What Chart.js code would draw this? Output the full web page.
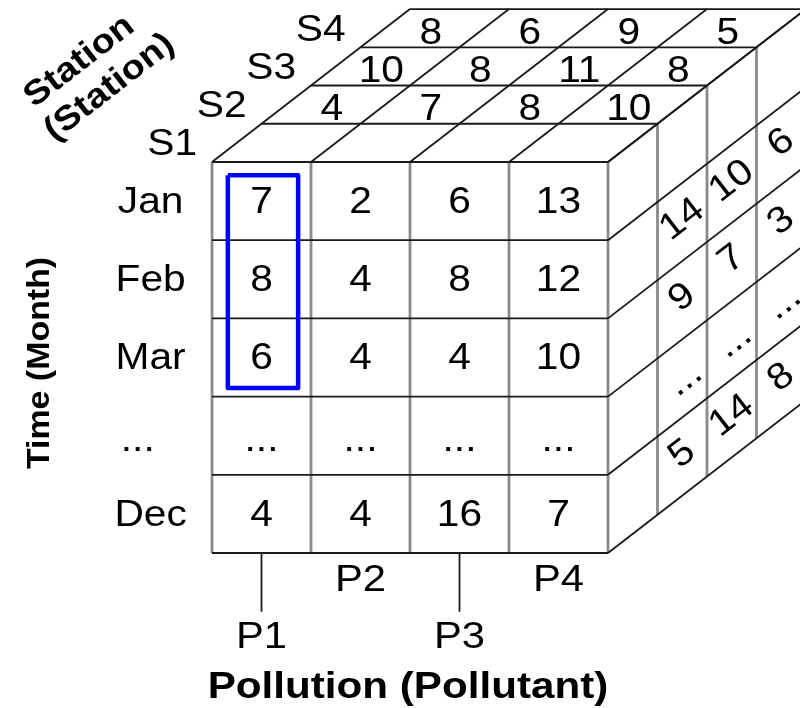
<!DOCTYPE html>
<html>
<head>
<meta charset="utf-8">
<script src="https://cdn.jsdelivr.net/npm/chart.js@4.4.1/dist/chart.umd.min.js"></script>
<style>
  html, body { margin: 0; padding: 0; background: #fff; }
  #cube { display: block; }
</style>
</head>
<body>
<canvas id="cube" width="800" height="708"></canvas>
<script>
// axes of the cube
const months = ['Jan', 'Feb', 'Mar', '...', 'Dec'];
const pollutants = ['P1', 'P2', 'P3', 'P4'];
const stations = ['S1', 'S2', 'S3', 'S4'];

// front face (S1), one array per month row
const s1Jan = [7, 2, 6, 13];
const s1Feb = [8, 4, 8, 12];
const s1Mar = [6, 4, 4, 10];
const s1Etc = ['...', '...', '...', '...'];
const s1Dec = [4, 4, 16, 7];

// top face, stations behind S1
const topS2 = [4, 7, 8, 10];
const topS3 = [10, 8, 11, 8];
const topS4 = [8, 6, 9, 5];

// right face, shown from the 2nd row down
const sideS2 = [14, 9, '...', 5];
const sideS3 = [10, 7, '...', 14];
const sideS4 = [6, 3, '...', 8];

// highlighted cells: P1, Jan..Mar
const highlightCol = 0;
const highlightRows = [0, 2];

const frontRows = [s1Jan, s1Feb, s1Mar, s1Etc, s1Dec];
const topRows = [topS2, topS3, topS4];
const sideCols = [sideS2, sideS3, sideS4];

// cube geometry in cell units (1 col / 1 row), depth goes up-right
const COL_PX = 99, ROW_PX = 78.2, ORIGIN_X = 212, ORIGIN_Y = 162;
const DEPTH_X = 0.5, DEPTH_Y = -0.489;
const nC = pollutants.length, nR = months.length, nD = stations.length;

function proj(c, r, d) {
  return { x: c + d * DEPTH_X, y: r + d * DEPTH_Y };
}

const GREY = '#8a8a8a';
const DARK = '#1a1a1a';
const datasets = [];
function seg(a, b, color, width) {
  datasets.push({
    data: [a, b],
    borderColor: color,
    borderWidth: width,
    pointRadius: 0,
    showLine: true,
    order: color === GREY ? 2 : 1
  });
}

// front face
for (let r = 0; r <= nR; r++) seg(proj(0, r, 0), proj(nC, r, 0), DARK, 1.8);
for (let c = 0; c <= nC; c++) seg(proj(c, 0, 0), proj(c, nR, 0), GREY, 2.8);
// top face
for (let d = 1; d <= nD; d++) seg(proj(0, 0, d), proj(nC, 0, d), DARK, 1.8);
for (let c = 0; c <= nC; c++) seg(proj(c, 0, 0), proj(c, 0, nD), DARK, 1.8);
// right face
for (let r = 0; r <= nR; r++) seg(proj(nC, r, 0), proj(nC, r, nD), DARK, 1.8);
for (let d = 1; d <= nD; d++) seg(proj(nC, 0, d), proj(nC, nR, d), GREY, 2.8);
// leader lines for P1 and P3
[0, 2].forEach(c => seg(proj(c + 0.5, nR, 0), proj(c + 0.5, nR + 0.75, 0), DARK, 1.8));

// blue highlight box
const hx0 = highlightCol + 0.16, hx1 = highlightCol + 0.87;
const hy0 = highlightRows[0] + 0.17, hy1 = highlightRows[1] + 0.89;
datasets.push({
  data: [{ x: hx0, y: hy0 }, { x: hx1, y: hy0 }, { x: hx1, y: hy1 }, { x: hx0, y: hy1 }, { x: hx0, y: hy0 }],
  borderColor: '#0000ff',
  borderWidth: 4.5,
  borderJoinStyle: 'round',
  pointRadius: 0,
  showLine: true,
  order: 0
});

const FONT = '"Liberation Sans", Arial, sans-serif';

function put(ctx, txt, x, y, o) {
  ctx.save();
  ctx.translate(x, y);
  if (o.angle) ctx.rotate(o.angle);
  ctx.scale(o.stretch || 1.1, 1);
  ctx.font = (o.bold ? 'bold ' : '') + (o.size || 37) + 'px ' + FONT;
  ctx.fillStyle = '#000';
  ctx.textAlign = o.align || 'center';
  ctx.textBaseline = 'middle';
  // ellipses sit a little lower in the reference
  ctx.fillText(String(txt), 0, txt === '...' ? 4 : 0);
  ctx.restore();
}

const cubeText = {
  id: 'cubeText',
  afterDatasetsDraw(chart) {
    const { ctx } = chart;
    const sx = chart.scales.x, sy = chart.scales.y;
    const px = p => sx.getPixelForValue(p.x);
    const py = p => sy.getPixelForValue(p.y);
    const at = (p, txt, o) => put(ctx, txt, px(p), py(p), o || {});

    // depth direction angle on screen
    const a0 = proj(nC, 0, 0), a1 = proj(nC, 0, 1);
    const depthAngle = Math.atan2(py(a1) - py(a0), px(a1) - px(a0));

    // front cells
    frontRows.forEach((row, r) => row.forEach((v, c) => at(proj(c + 0.5, r + 0.52, 0), v)));
    // top cells
    topRows.forEach((row, i) => row.forEach((v, c) => at(proj(c + 0.46, 0.07, i + 1.5), v)));
    // side cells
    sideCols.forEach((col, i) => col.forEach((v, k) =>
      at(proj(nC, k + 1.47, i + 1.5), v, { angle: depthAngle })));

    // month labels
    months.forEach((m, r) => at(proj(m === '...' ? -0.75 : -0.62, r + 0.52, 0), m));
    // pollutant labels, staggered
    pollutants.forEach((p, c) => at(proj(c + 0.5, nR + (c % 2 ? 0.35 : 1.09), 0), p, { stretch: 1.13 }));
    // station labels
    stations.forEach((s, d) => at(proj(-0.4, 0.03, d + 0.5), s, { align: 'right' }));

    // axis titles
    at({ x: -1.737, y: 2.57 }, 'Time (Month)', { bold: true, size: 32, stretch: 1.06, angle: -Math.PI / 2 });
    at({ x: (408 - ORIGIN_X) / COL_PX, y: (688 - ORIGIN_Y) / ROW_PX }, 'Pollution (Pollutant)', { bold: true, size: 37, stretch: 1.14 });
    const st = { x: -1.187, y: -1.12 };
    const cx = px(st), cy = py(st);
    ctx.save();
    ctx.translate(cx, cy);
    ctx.rotate(depthAngle);
    put(ctx, 'Station', -4, -19.5, { bold: true, size: 34, stretch: 1.12 });
    put(ctx, '(Station)', 4, 19.5, { bold: true, size: 34, stretch: 1.12 });
    ctx.restore();
  }
};

new Chart(document.getElementById('cube'), {
  type: 'scatter',
  data: { datasets },
  options: {
    responsive: false,
    animation: false,
    layout: { padding: 0 },
    plugins: { legend: { display: false }, tooltip: { enabled: false } },
    scales: {
      x: { display: false, min: -ORIGIN_X / COL_PX, max: (800 - ORIGIN_X) / COL_PX },
      y: { display: false, reverse: true, min: -ORIGIN_Y / ROW_PX, max: (708 - ORIGIN_Y) / ROW_PX }
    }
  },
  plugins: [cubeText]
});
</script>
</body>
</html>
